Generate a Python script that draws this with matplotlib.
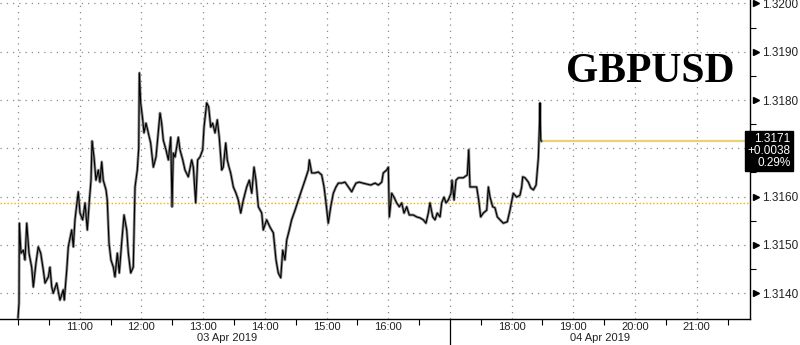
import matplotlib
matplotlib.use("Agg")
import matplotlib.pyplot as plt
import matplotlib.transforms as mtransforms
import numpy as np

# minutes after 10:00 (03 Apr 2019) and GBPUSD price
minutes = [0, 1, 1.3, 2.9, 5.2, 6.8, 8.5, 10.7, 13.3, 14.9, 17.5, 19.7, 22.1, 24.6,
           26.3, 29.5, 31.1, 32.8, 34.3, 37.6, 40.8, 44.0, 45.0, 47.4, 48.9, 52.2,
           53.8, 55.4, 58.6, 60.3, 62.9, 65.2, 67.4, 69.3, 71.0, 72.0, 73.9, 75.8,
           78.1, 79.7, 81.4, 82.9, 85.6, 86.8, 88.5, 90.4, 92.7, 94.3, 96.6, 98.5,
           100.8, 103.1, 105.7, 107.3, 109.6, 112.1, 113.8, 116.0, 117.4, 118.0,
           119.3, 121.3, 122.5, 124.5, 126.7, 129.0, 131.6, 134.2, 136.4, 138.1,
           139.7, 141.3, 143.9, 146.2, 148.5, 149.8, 151.0, 152.7, 155.9, 157.5,
           160.2, 162.4, 165.6, 168.9, 170.5, 172.8, 174.7, 177.0, 179.6, 180.9,
           183.5, 185.4, 187.4, 189.3, 191.6, 193.8, 195.7, 198.1, 199.6, 202.0,
           203.5, 205.2, 206.8, 209.4, 212.0, 214.2, 216.6, 219.1, 222.4, 224.9,
           227.3, 229.5, 231.4, 233.7, 237.0, 238.5, 241.8, 245.0, 248.3, 250.9,
           253.1, 255.5, 257.4, 259.6, 261.3, 263.8, 266.1, 269.4, 272.6, 275.9,
           279.1, 282.3, 283.3, 285.6, 288.8, 292.0, 295.3, 297.6, 299.5, 301.7,
           304.1, 306.6, 309.2, 311.5, 314.8, 318.0, 321.2, 324.5, 326.7, 328.7,
           331.9, 335.2, 339.1, 343.0, 347.2, 350.4, 353.7, 355.2, 358.5, 360.1,
           361.1, 363.4, 365.6, 368.2, 370.8, 373.1, 375.4, 378.0, 380.5, 384.4,
           387.7, 390.9, 394.1, 396.7, 399.0, 400.6, 403.3, 405.5, 407.7, 410.4,
           412.0, 414.2, 416.2, 418.4, 421.1, 422.0, 424.0, 425.9, 428.2, 433.0,
           436.9, 438.3, 439.5, 442.1, 446.0, 448.0, 449.9, 452.5, 455.8, 457.4,
           459.0, 461.6, 463.8, 466.1, 468.7, 471.9, 475.8, 478.4, 481.6, 484.9,
           488.1, 489.8, 490.8, 493.0, 496.3, 498.6, 501.2, 503.8, 506.0, 507.0,
           507.6, 508.3, 509.0]

prices = [1.31349, 1.31380, 1.31545, 1.31483, 1.31489, 1.31469, 1.31545, 1.31483,
          1.31454, 1.31413, 1.31463, 1.31496, 1.31483, 1.31448, 1.31421, 1.31434,
          1.31454, 1.31413, 1.31400, 1.31421, 1.31386, 1.31407, 1.31386, 1.31448,
          1.31496, 1.31531, 1.31496, 1.31552, 1.31610, 1.31566, 1.31552, 1.31587,
          1.31531, 1.31589, 1.31634, 1.31715, 1.31682, 1.31634, 1.31655, 1.31630,
          1.31672, 1.31634, 1.31614, 1.31593, 1.31504, 1.31469, 1.31454, 1.31434,
          1.31483, 1.31442, 1.31504, 1.31562, 1.31531, 1.31483, 1.31442, 1.31454,
          1.31620, 1.31655, 1.31701, 1.31856, 1.31794, 1.31759, 1.31732, 1.31752,
          1.31732, 1.31711, 1.31661, 1.31682, 1.31732, 1.31773, 1.31752, 1.31717,
          1.31697, 1.31676, 1.31723, 1.31579, 1.31690, 1.31682, 1.31723, 1.31697,
          1.31676, 1.31655, 1.31641, 1.31676, 1.31661, 1.31587, 1.31676, 1.31682,
          1.31697, 1.31744, 1.31794, 1.31786, 1.31744, 1.31752, 1.31732, 1.31759,
          1.31723, 1.31655, 1.31661, 1.31711, 1.31676, 1.31661, 1.31649, 1.31620,
          1.31607, 1.31593, 1.31566, 1.31593, 1.31620, 1.31634, 1.31607, 1.31661,
          1.31634, 1.31579, 1.31566, 1.31531, 1.31552, 1.31537, 1.31525, 1.31469,
          1.31442, 1.31432, 1.31489, 1.31469, 1.31510, 1.31531, 1.31552, 1.31572,
          1.31593, 1.31614, 1.31634, 1.31655, 1.31676, 1.31649, 1.31649, 1.31651,
          1.31645, 1.31620, 1.31587, 1.31545, 1.31579, 1.31607, 1.31620, 1.31628,
          1.31628, 1.31630, 1.31620, 1.31610, 1.31620, 1.31628, 1.31630, 1.31628,
          1.31626, 1.31624, 1.31628, 1.31624, 1.31630, 1.31649, 1.31655, 1.31661,
          1.31558, 1.31607, 1.31599, 1.31587, 1.31579, 1.31587, 1.31566, 1.31579,
          1.31562, 1.31562, 1.31558, 1.31556, 1.31552, 1.31545, 1.31566, 1.31587,
          1.31558, 1.31552, 1.31566, 1.31558, 1.31587, 1.31599, 1.31587, 1.31593,
          1.31607, 1.31634, 1.31593, 1.31634, 1.31639, 1.31639, 1.31645, 1.31697,
          1.31620, 1.31620, 1.31620, 1.31593, 1.31558, 1.31566, 1.31572, 1.31620,
          1.31599, 1.31579, 1.31577, 1.31558, 1.31552, 1.31545, 1.31548, 1.31572,
          1.31607, 1.31599, 1.31603, 1.31620, 1.31641, 1.31639, 1.31630, 1.31618,
          1.31614, 1.31624, 1.31680, 1.31744, 1.31794, 1.31717, 1.31715]

last_price = 1.31715
prev_close = 1.31586
hour_labels = ["11:00", "12:00", "13:00", "14:00", "15:00", "16:00",
               "18:00", "19:00", "20:00", "21:00"]
hour_ticks = [60, 120, 180, 240, 300, 360, 480, 540, 600, 660]
day_break = 420
price_ticks = [1.3140, 1.3150, 1.3160, 1.3170, 1.3180, 1.3190, 1.3200]

plt.rcParams["font.family"] = ["Liberation Sans", "DejaVu Sans"]

fig = plt.figure(figsize=(8, 3.45), dpi=100)
ax = fig.add_axes([0, 1 - 319 / 345, 750 / 800, 319 / 345])

ax.set_xlim(-17.5, 711.8)
ax.set_ylim(1.313467, 1.32007)

# dotted grid
for h in range(0, 12):
    ax.axvline(h * 60, color="#8a8a8a", lw=0.9, ls=(0, (1, 4)), zorder=1)
for p in price_ticks:
    ax.axhline(p, color="#8a8a8a", lw=0.9, ls=(0, (1, 4)), zorder=1)

ax.axhline(prev_close, color="#f0b000", lw=1.0, ls=(0, (1, 1.5)), zorder=2)
ax.plot([minutes[-1], 711.8], [last_price, last_price], color="#ecd17a", lw=1.6, zorder=2)

ax.plot(minutes, prices, color="#8c8c8c", lw=2.0, zorder=3)
ax.plot(minutes, prices, color="black", lw=0.8, zorder=4)

for side in ["left", "top"]:
    ax.spines[side].set_visible(False)
ax.spines["bottom"].set_linewidth(1.0)
ax.spines["right"].set_linewidth(1.0)

# the 1.3170 label sits under the last-price box
ax.yaxis.tick_right()
ax.set_yticks(price_ticks)
ax.set_yticklabels(["" if abs(p - 1.3170) < 1e-6 else "%.4f" % p for p in price_ticks])
ax.set_yticks([p + 0.0005 for p in price_ticks[:-1]], minor=True)
ax.tick_params(axis="y", which="major", length=0, pad=8.5, labelsize=8.5, labelcolor="#222222")
ax.tick_params(axis="y", which="minor", length=4, direction="out", width=0.8)

ax.set_xticks(hour_ticks)
ax.set_xticklabels(hour_labels)
ax.set_xticks([0.0] + [30 + 60 * h for h in range(12)], minor=True)
ax.tick_params(axis="x", which="major", length=0, pad=2, labelsize=8, labelcolor="#222222")
ax.tick_params(axis="x", which="minor", length=4, direction="out", width=0.8)

# triangle markers on the price axis
trans_y = mtransforms.blended_transform_factory(ax.transAxes, ax.transData)
ax.plot([1.008] * len(price_ticks), price_ticks, ls="none", marker=">", ms=4,
        color="black", transform=trans_y, clip_on=False)

# day separator and date labels
trans_x = mtransforms.blended_transform_factory(ax.transData, ax.transAxes)
ax.plot([day_break, day_break], [0, -0.09], color="black", lw=0.9,
        transform=trans_x, clip_on=False)
ax.text(203, -0.058, "03 Apr 2019", transform=trans_x, ha="center", va="center",
        fontsize=8, color="#222222")
ax.text(566, -0.058, "04 Apr 2019", transform=trans_x, ha="center", va="center",
        fontsize=8, color="#222222")

# last price box
ax.plot([1.006], [last_price], marker="<", ms=7, color="black",
        transform=trans_y, clip_on=False)
fig.text(0.988, 1 - 151 / 345, "1.3171\n+0.0038\n0.29%", ha="right", va="center",
         multialignment="right", fontsize=8.5, color="white", linespacing=1.0,
         bbox=dict(facecolor="black", edgecolor="black", pad=1.8))

fig.text(0.8125, 1 - 72 / 345, "GBPUSD", ha="center", va="center",
         fontsize=30, fontweight="bold", family="Liberation Serif", color="black")

fig.savefig("out.png", dpi=100)
plt.close(fig)
